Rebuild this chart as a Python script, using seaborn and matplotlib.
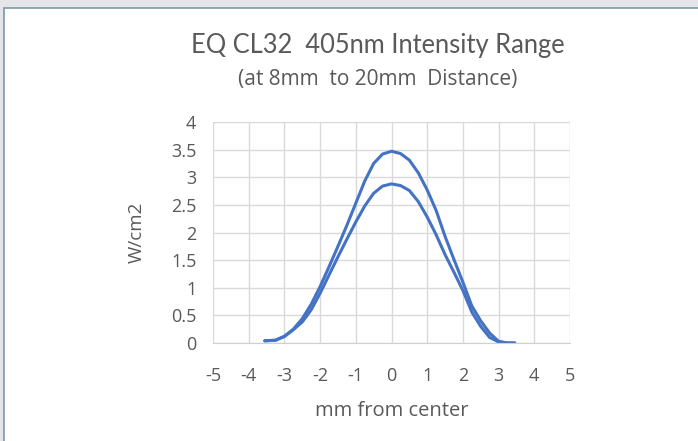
import matplotlib
matplotlib.use("Agg")
import matplotlib.pyplot as plt
from matplotlib.patches import Rectangle
import seaborn as sns
import pandas as pd

# distance from center (mm)
x_mm = [-3.55, -3.25, -3.0, -2.75, -2.5, -2.25, -2.0, -1.75, -1.5, -1.25, -1.0, -0.75,
        -0.5, -0.25, 0.0, 0.25, 0.5, 0.75, 1.0, 1.25, 1.5, 1.75, 2.0, 2.25, 2.5,
        2.75, 3.0, 3.25, 3.45]
# intensity at 8mm (upper curve) and 20mm (lower curve), W/cm2
w_8mm = [0.04, 0.05, 0.12, 0.25, 0.44, 0.70, 1.02, 1.38, 1.75, 2.13, 2.53, 2.93,
         3.25, 3.42, 3.47, 3.43, 3.31, 3.08, 2.77, 2.40, 1.93, 1.51, 1.10, 0.67, 0.40,
         0.18, 0.03, 0.0, 0.0]
w_20mm = [0.04, 0.05, 0.12, 0.24, 0.38, 0.60, 0.90, 1.23, 1.56, 1.88, 2.19, 2.48,
          2.71, 2.84, 2.88, 2.85, 2.76, 2.56, 2.28, 1.96, 1.60, 1.28, 0.95, 0.56, 0.30,
          0.10, 0.02, 0.0, 0.0]
x_ticks = [-5, -4, -3, -2, -1, 0, 1, 2, 3, 4, 5]
y_ticks = [0, 0.5, 1, 1.5, 2, 2.5, 3, 3.5, 4]
y_tick_labels = ["0", "0.5", "1", "1.5", "2", "2.5", "3", "3.5", "4"]

df = pd.DataFrame({
    "mm": x_mm * 2,
    "W": w_8mm + w_20mm,
    "dist": ["8mm"] * len(x_mm) + ["20mm"] * len(x_mm),
})

sns.set_style("white")
plt.rcParams["font.family"] = ["Open Sans", "DejaVu Sans"]
grey = "#595959"

fig = plt.figure(figsize=(6.98, 4.41), dpi=100)
fig.patch.set_facecolor("#e3e5e8")
# white chart area with its thin border (screenshot frame)
fig.patches.append(Rectangle((4 / 698, -0.01), 1.0, (441 - 8) / 441 + 0.01,
                             transform=fig.transFigure, facecolor="white",
                             edgecolor="#7d97a9", linewidth=1.2, zorder=-10))

ax = fig.add_axes([213 / 698, 1 - 343 / 441, 357 / 698, 221 / 441])
ax.patch.set_alpha(0)
sns.lineplot(data=df, x="mm", y="W", hue="dist", palette=["#4472c4", "#4472c4"],
             linewidth=2.2, legend=False, sort=False, estimator=None, ax=ax)

ax.set_xlim(-5, 5)
ax.set_ylim(0, 4)
ax.set_xticks(x_ticks)
ax.set_xticklabels([str(t) for t in x_ticks])
ax.set_yticks(y_ticks)
ax.set_yticklabels(y_tick_labels)
ax.grid(True, color="#d9d9d9", linewidth=1)
for s in ["top", "right", "left"]:
    ax.spines[s].set_visible(False)
ax.spines["bottom"].set_color("#d0d0d0")
ax.tick_params(axis="both", length=0, colors=grey, labelsize=13)
ax.tick_params(axis="x", pad=17)
ax.tick_params(axis="y", pad=12)
ax.set_xlabel("mm from center", fontsize=14.5, color=grey, labelpad=12)
ax.set_ylabel("W/cm2", fontsize=13.5, color=grey, labelpad=18)

fig.text(378 / 698, 1 - 45 / 441, "EQ CL32  405nm Intensity Range", ha="center",
         va="center", fontsize=18.4, color=grey, family=["Lato", "DejaVu Sans"])
fig.text(378 / 698, 1 - 79 / 441, "(at 8mm  to 20mm  Distance)", ha="center",
         va="center", fontsize=15, color=grey)

fig.savefig("out.png", dpi=100)
